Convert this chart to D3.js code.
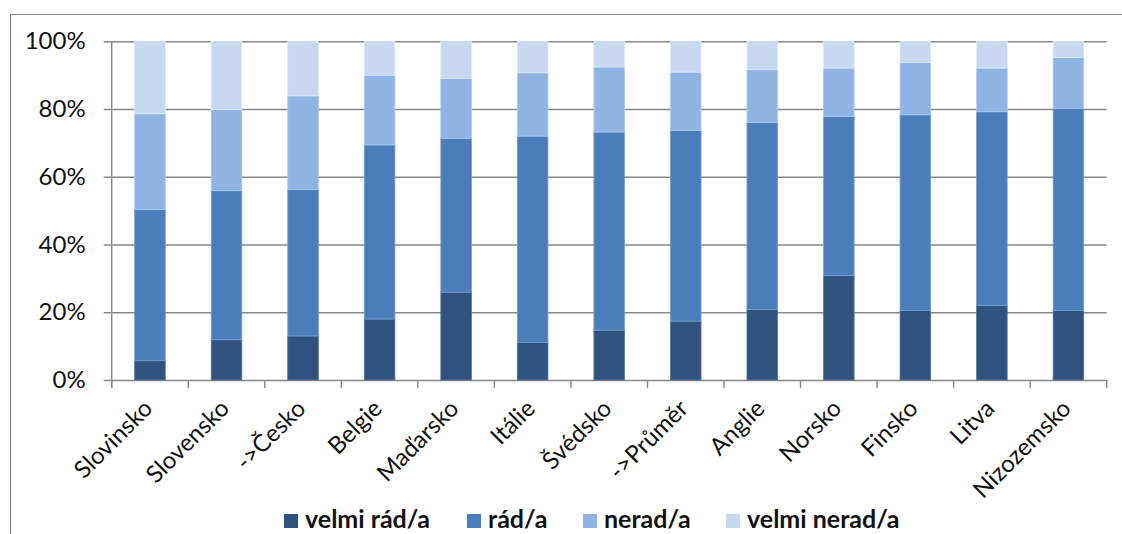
<!DOCTYPE html>
<html><head><meta charset="utf-8">
<script src="https://cdn.jsdelivr.net/npm/d3@7"></script>
<style>
html,body{margin:0;padding:0;background:#fff;}
svg{display:block;font-family:Lato,"Open Sans",sans-serif;}
</style></head>
<body>
<svg id="chart" width="1122" height="534"></svg>
<script>
const categories = ["Slovinsko","Slovensko","->Česko","Belgie","Maďarsko","Itálie","Švédsko","->Průměr","Anglie","Norsko","Finsko","Litva","Nizozemsko"];
const seriesNames = ["velmi rád/a","rád/a","nerad/a","velmi nerad/a"];
const velmiRad   = [5.7, 11.9, 13.0, 18.0, 25.9, 11.1, 14.7, 17.4, 20.8, 30.8, 20.5, 22.0, 20.5];
const rad        = [44.6, 44.0, 43.2, 51.4, 45.5, 60.9, 58.5, 56.3, 55.2, 47.0, 57.8, 57.2, 59.7];
const nerad      = [28.3, 24.0, 27.7, 20.6, 17.6, 18.7, 19.2, 17.2, 15.6, 14.3, 15.4, 12.9, 15.0];
const velmiNerad = [21.4, 20.1, 16.1, 10.0, 11.0, 9.3, 7.6, 9.1, 8.4, 7.9, 6.3, 7.9, 4.8];
const yTicks = [0, 0.2, 0.4, 0.6, 0.8, 1.0];
const colors = ["#30527f", "#4a7ebb", "#8fb4e3", "#c6d9f1"];
const strokes = ["#5a77a0", "#78a0d0", "#b0cbee", "#dde9f8"];

const svg = d3.select("#chart");
const plotL = 111.7, plotR = 1106.7, plotT = 41.3, plotB = 380;

// chart frame
svg.append("path").attr("d", `M10.5,534 V14.5 H1122`).attr("fill","none").attr("stroke","#888").attr("stroke-width",1.2);

const x = d3.scaleBand().domain(categories).range([plotL, plotR]).paddingInner(0.6).paddingOuter(0.3);
const y = d3.scaleLinear().domain([0, 1]).range([plotB, plotT]);

// gridlines
const gy = svg.append("g").attr("transform", `translate(${plotR},0)`);
gy.call(d3.axisLeft(y).tickValues(yTicks).tickSize(plotR - plotL + 8).tickFormat(""));
gy.select(".domain").remove();
gy.selectAll(".tick line").attr("stroke","#888").attr("stroke-width",1.4);

// y labels
const gyl = svg.append("g").attr("transform", `translate(${plotL},0)`);
gyl.call(d3.axisLeft(y).tickValues(yTicks).tickFormat(d3.format(".0%")).tickSize(0).tickPadding(26));
gyl.select(".domain").remove();
gyl.selectAll(".tick text").attr("font-size", 24).attr("fill", "#111").attr("font-family","Lato,sans-serif");

// vertical axis line
svg.append("line").attr("x1", plotL).attr("x2", plotL).attr("y1", plotT).attr("y2", plotB + 8)
  .attr("stroke","#888").attr("stroke-width",1.4);

// category boundary ticks
const bounds = d3.range(categories.length + 1).map(i => plotL + i * (plotR - plotL) / categories.length);
svg.append("g").selectAll("line").data(bounds).join("line")
  .attr("x1", d => d).attr("x2", d => d).attr("y1", plotB).attr("y2", plotB + 8)
  .attr("stroke","#888").attr("stroke-width",1.4);

// stacked data
const rows = categories.map((c, i) => ({cat: c, "velmi rád/a": velmiRad[i]/100, "rád/a": rad[i]/100, "nerad/a": nerad[i]/100, "velmi nerad/a": velmiNerad[i]/100}));
const stack = d3.stack().keys(seriesNames)(rows);

stack.forEach((layer, li) => {
  svg.append("g").selectAll("rect").data(layer).join("rect")
    .attr("x", d => x(d.data.cat))
    .attr("width", x.bandwidth())
    .attr("y", d => y(d[1]))
    .attr("height", d => y(d[0]) - y(d[1]))
    .attr("fill", colors[li])
    .attr("stroke", strokes[li]).attr("stroke-width", 0.8);
});

// category labels
svg.append("g").selectAll("text").data(categories).join("text")
  .attr("transform", d => `translate(${x(d) + x.bandwidth()/2 + 4},${plotB + 30}) rotate(-45)`)
  .attr("text-anchor", "end")
  .attr("font-size", 24)
  .attr("fill", "#111")
  .text(d => d);

// legend
const legendX = [284, 467, 583, 726];
const lg = svg.append("g");
seriesNames.forEach((s, i) => {
  lg.append("rect").attr("x", legendX[i]).attr("y", 514).attr("width", 14).attr("height", 14).attr("fill", colors[i]);
  lg.append("text").attr("x", legendX[i] + 21).attr("y", 528).attr("font-size", 25).attr("font-weight", "bold")
    .attr("fill", "#111").text(s);
});
</script>
</body></html>
